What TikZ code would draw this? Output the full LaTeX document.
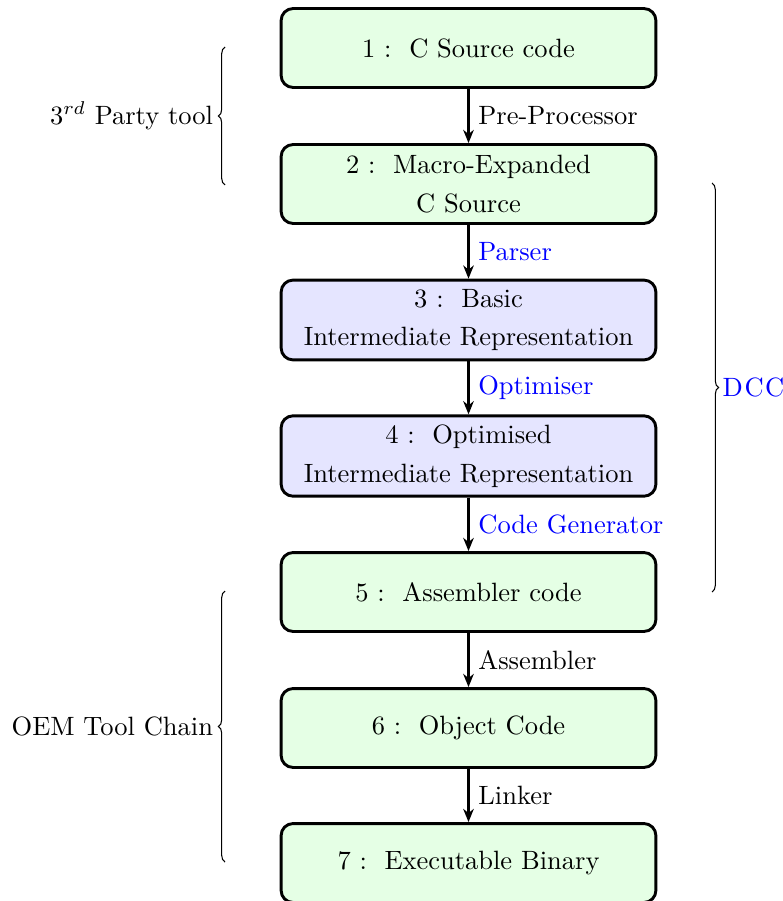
\documentclass[tikz,border=0pt]{standalone}
\usetikzlibrary{arrows.meta,decorations.pathreplacing}
\begin{document}
\begin{tikzpicture}[x=0.3776pt, y=-0.3776pt,
  stagebox/.style={draw, line width=1.1pt, rounded corners=4.5pt,
    minimum width=141.5pt, minimum height=29.8pt, align=center,
    font=\fontsize{10}{14.7}\selectfont},
  cfile/.style={stagebox, fill=green!10},
  irfile/.style={stagebox, fill=blue!10},
  flow/.style={-{Stealth[length=5pt,width=4pt]}, line width=0.8pt},
  steplabel/.style={right, font=\fontsize{10}{12}\selectfont},
  grp/.style={decorate, decoration={brace, amplitude=2.5pt}, line width=0.4pt},
  grplabel/.style={font=\fontsize{10}{12}\selectfont}
]
\useasboundingbox (0,0) rectangle (783,901);

\node[cfile]  (s1) at (468.5,48)  {1 :\ \ C Source code};
\node[cfile]  (s2) at (468.5,184) {2 :\ \ Macro-Expanded\\C Source};
\node[irfile] (s3) at (468.5,320) {3 :\ \ Basic\\Intermediate Representation};
\node[irfile] (s4) at (468.5,456) {4 :\ \ Optimised\\Intermediate Representation};
\node[cfile]  (s5) at (468.5,592) {5 :\ \ Assembler code};
\node[cfile]  (s6) at (468.5,728) {6 :\ \ Object Code};
\node[cfile]  (s7) at (468.5,863) {7 :\ \ Executable Binary};

\draw[flow] (s1) -- node[steplabel] {Pre-Processor} (s2);
\draw[flow] (s2) -- node[steplabel, text=blue] {Parser} (s3);
\draw[flow] (s3) -- node[steplabel, text=blue] {Optimiser} (s4);
\draw[flow] (s4) -- node[steplabel, text=blue] {Code Generator} (s5);
\draw[flow] (s5) -- node[steplabel] {Assembler} (s6);
\draw[flow] (s6) -- node[steplabel] {Linker} (s7);

% tool-chain groupings
\coordinate (tpA) at (225,185);
\coordinate (tpB) at (225,47);
\draw[grp] (tpA) -- node[grplabel, left, xshift=-1pt] {$3^{rd}$ Party tool} (tpB);

\coordinate (oemA) at (225,862);
\coordinate (oemB) at (225,591);
\draw[grp] (oemA) -- node[grplabel, left, xshift=-1pt] {OEM Tool Chain} (oemB);

\coordinate (dccA) at (712,183);
\coordinate (dccB) at (712,592);
\draw[grp] (dccA) -- node[grplabel, right, xshift=0.5pt, text=blue] {D\kern0.6pt C\kern0.6pt C} (dccB);
\end{tikzpicture}
\end{document}
